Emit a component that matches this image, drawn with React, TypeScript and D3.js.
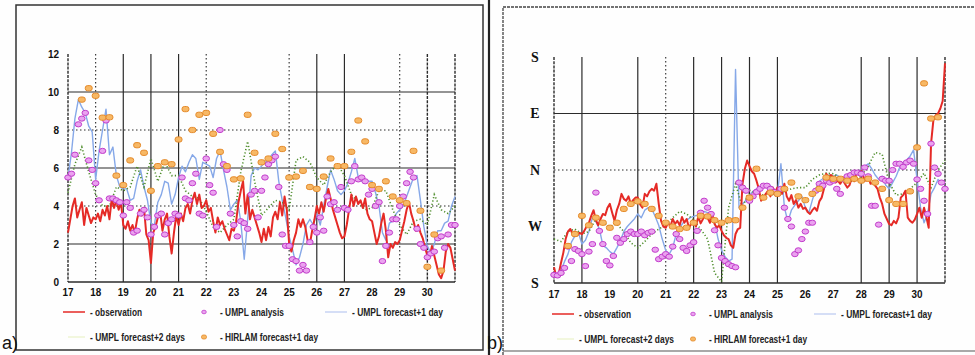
import React from 'react';
import * as d3 from 'd3';

// ---------- shared ----------
const dayLabels = ['17', '18', '19', '20', '21', '22', '23', '24', '25', '26', '27', '28', '29', '30'];
const legendLabels = ['- observation', '- UMPL analysis', '- UMPL forecast+1 day', '- UMPL forecast+2 days', '- HIRLAM forecast+1 day'];

// ---------- panel a: wind speed (m/s) ----------
const speedTicks = [0, 2, 4, 6, 8, 10, 12];
// observation, 2-hourly from day 17.0
const obsSpeed = [
  2.6, 3.3, 4.0, 4.4, 3.4, 3.8, 4.2, 3.0, 3.9, 3.5, 3.1, 3.4,
  3.3, 3.6, 3.2, 3.8, 3.5, 4.0, 3.3, 4.4, 3.9, 4.3, 3.8, 4.2,
  3.0, 2.8, 3.2, 2.7, 3.0, 2.6, 3.3, 3.8, 3.5, 3.9, 2.5, 2.2,
  1.0, 2.6, 2.9, 3.4, 3.7, 2.7, 3.3, 3.6, 2.4, 1.5, 2.6, 3.5,
  3.0, 3.6, 3.2, 3.9, 4.1, 3.6, 4.3, 4.7, 4.1, 4.6, 3.9, 4.0,
  4.3, 3.7, 3.9, 3.2, 2.6, 3.4, 3.0, 3.2, 2.8, 2.5, 2.2, 2.8,
  2.7, 3.2, 4.2, 4.8, 5.3, 3.6, 4.6, 3.3, 3.8, 3.4, 3.0, 2.6,
  2.1, 2.8, 2.2, 2.9, 2.4, 3.4, 3.7, 3.3, 4.2, 3.5, 4.5, 3.8,
  2.0, 1.6, 2.2, 2.6, 3.3, 2.9, 3.3, 2.9, 2.2, 2.0, 2.7, 3.3,
  4.0, 3.6, 4.2, 3.7, 4.4, 4.9, 4.4, 3.8, 3.4, 3.0, 2.6, 2.3,
  2.4, 3.0, 3.8, 4.6, 4.0, 4.5, 4.1, 4.3, 3.9, 4.4, 3.6, 3.3,
  3.2, 2.6, 2.0, 2.4, 3.1, 3.6, 2.7, 1.3, 2.0, 1.8, 2.1, 2.0,
  2.2, 2.7, 3.2, 3.8, 4.2, 3.6, 3.2, 2.7, 3.0, 2.6, 2.3, 1.8,
  1.4, 1.3, 1.9, 1.4, 0.9, 0.4, 0.2, 0.6, 1.6, 2.0, 1.8, 1.2,
  0.6,
];
// UMPL analysis, 3-hourly from day 17.0
const analysisSpeed = [
  5.5, 5.7, 6.7, 8.3, 8.6, 8.9, 6.4, 5.9,
  5.2, 4.3, 6.9, 8.5, 4.4, 4.4, 4.3, 4.2,
  3.5, 4.2, 3.9, 2.6, 2.7, 3.6, 3.8, 3.4,
  2.5, 2.9, 3.5, 3.6, 2.5, 3.1, 3.3, 3.6,
  3.5, 5.5, 4.4, 4.3, 5.2, 5.7, 3.6, 3.5,
  6.5, 5.1, 4.7, 2.9, 8.0, 6.2, 5.9, 3.6,
  3.0, 2.4, 3.2, 3.1, 2.8, 4.6, 4.8, 3.4,
  4.8, 5.5, 6.2, 6.4, 6.6, 5.0, 2.5, 1.9,
  1.9, 1.2, 1.1, 0.6, 0.9, 0.6, 2.1, 2.9,
  2.6, 3.4, 2.7, 4.5, 4.1, 4.2, 3.8, 5.0,
  3.9, 3.8, 5.3, 6.1, 5.4, 5.5, 5.3, 4.6,
  4.9, 4.0, 4.2, 1.1, 1.9, 2.6, 3.3, 3.3,
  4.0, 4.5, 5.2, 5.8, 5.5, 2.8, 2.0, 1.8,
  1.3, 1.5, 1.6, 2.3, 2.4, 1.8, 2.5, 3.0,
  3.0,
];
// UMPL forecast +1 day, 3-hourly from day 17.0
const fc1Speed = [
  5.5, 6.8, 8.6, 9.6, 9.2, 8.9, 8.2, 7.9,
  5.4, 6.9, 8.0, 9.1, 6.7, 7.1, 5.6, 5.0,
  4.9, 4.9, 4.3, 4.4, 5.3, 5.9, 5.0, 4.3,
  3.1, 3.0, 4.2, 4.6, 5.3, 5.2, 4.1, 4.6,
  5.5, 6.1, 5.8, 6.3, 6.7, 6.5, 5.4, 6.3,
  6.2, 6.1, 5.5, 6.5, 6.9, 5.9, 5.0, 3.8,
  4.1, 4.3, 3.2, 1.2, 3.3, 5.6, 6.0, 5.9,
  6.1, 6.3, 6.4, 6.7, 6.9, 5.3, 4.3, 3.4,
  2.4, 1.7, 0.9, 1.3, 2.0, 3.0, 3.3, 3.0,
  3.6, 3.0, 4.0, 5.0, 5.9, 5.4, 4.8, 4.6,
  4.8, 5.2, 5.8, 6.5, 5.5, 5.3, 5.4, 5.3,
  5.3, 4.7, 4.0, 2.6, 2.2, 3.1, 3.2, 3.6,
  3.8, 4.0, 4.5, 5.0, 5.5, 5.6, 4.3, 2.9,
  1.9, 1.5, 2.0, 2.7, 2.7, 3.1, 3.2, 4.0,
  4.5,
];
// UMPL forecast +2 days, 6-hourly from day 17.0
const fc2Speed = [
  4.7, 6.2, 7.1, 5.8, 4.6, 4.0, 4.0, 5.0, 4.8, 5.0, 6.1, 5.0,
  6.5, 5.3, 6.3, 5.6, 5.6, 4.8, 4.5, 4.4, 3.7, 2.9, 2.6, 3.0,
  3.3, 5.8, 7.4, 5.3, 3.5, 3.9, 4.3, 4.2, 3.8, 6.4, 6.6, 6.3,
  5.5, 5.1, 5.8, 6.2, 5.6, 4.6, 4.2, 3.8, 3.9, 4.8, 4.8, 3.8,
  3.0, 2.5, 3.2, 3.3, 3.0, 4.6, 3.8, 3.6, 4.0,
];
// HIRLAM forecast +1 day, 6-hourly from day 17.5
const hirlamSpeed = [
  9.6, 10.2, 9.8, 8.65, 8.67, 5.6, 5.1, 6.4, 7.2, 6.8, 4.8, 6.1, 6.3, 6.2,
  7.5, 9.1, 8.0, 8.8, 8.9, 7.8, 6.85, 6.1, 5.4, 5.45, 8.8, 6.8, 6.3, 6.5,
  7.8, 7.0, 5.5, 5.55, 5.85, 5.0, 4.9, 5.55, 6.5, 6.1, 6.1, 6.85, 8.5, 7.4,
  5.1, 4.9, 5.3, 4.5, 4.3, 4.15, 6.9, 3.75, 0.8, 2.5, 0.6,
];

// ---------- panel b: wind direction (deg; 180=S, 270=W, 360=N, 450=E, 540=S) ----------
const dirTickValues = [180, 270, 360, 450, 540];
const dirTickLabels = ['S', 'W', 'N', 'E', 'S'];
// observation, 2-hourly from day 17.0
const obsDir = [
  205, 190, 194, 212, 228, 250, 262, 266, 258, 262, 256, 260,
  258, 263, 270, 276, 287, 296, 280, 272, 282, 290, 288, 300,
  306, 292, 279, 296, 306, 322, 314, 311, 318, 306, 312, 316,
  316, 305, 300, 322, 318, 326, 330, 327, 338, 306, 279, 270,
  268, 276, 270, 282, 274, 279, 272, 285, 276, 282, 268, 275,
  279, 270, 286, 275, 282, 288, 284, 276, 290, 274, 268, 272,
  263, 256, 252, 250, 240, 236, 258, 266, 268, 338, 362, 375,
  366, 358, 354, 343, 330, 311, 316, 322, 327, 318, 332, 325,
  332, 326, 322, 338, 318, 311, 320, 306, 312, 300, 306, 298,
  300, 293, 290, 296, 300, 295, 310, 316, 330, 354, 348, 352,
  348, 340, 343, 338, 345, 338, 332, 336, 348, 342, 356, 352,
  359, 348, 343, 350, 338, 340, 335, 330, 316, 306, 290, 282,
  274, 272, 279, 275, 284, 316, 320, 327, 284, 279, 276, 281,
  290, 300, 284, 300, 285, 268, 402, 439, 447, 450, 458, 470,
  530,
];
// UMPL analysis, 3-hourly from day 17.0
const analysisDir = [
  193, 192, 196, 204, 238, 215, 234, 231,
  226, 207, 230, 242, 324, 263, 242, 215,
  208, 223, 252, 244, 250, 258, 262, 258,
  258, 262, 256, 260, 262, 233, 218, 222,
  226, 222, 238, 258, 250, 236, 231, 240,
  245, 263, 292, 311, 300, 290, 264, 240,
  220, 215, 210, 207, 205, 340, 332, 327,
  311, 318, 325, 330, 335, 335, 330, 325,
  322, 330, 300, 282, 270, 226, 232, 250,
  262, 276, 276, 327, 338, 335, 343, 340,
  343, 330, 322, 345, 350, 352, 356, 356,
  354, 364, 350, 303, 303, 273, 346, 343,
  343, 360, 370, 370, 365, 372, 375, 370,
  345, 330, 311, 290, 402, 364, 354, 340,
  330,
];
// UMPL forecast +1 day, 3-hourly from day 17.0
const fc1Dir = [
  190, 193, 200, 214, 226, 245, 255, 260,
  242, 248, 262, 284, 278, 266, 240, 236,
  230, 226, 236, 247, 262, 270, 276, 282,
  290, 284, 296, 300, 298, 286, 272, 250,
  232, 226, 236, 258, 268, 276, 280, 284,
  286, 288, 291, 294, 292, 288, 278, 250,
  232, 222, 215, 218, 520, 300, 306, 312,
  320, 326, 330, 332, 336, 338, 335, 328,
  322, 370, 300, 278, 296, 304, 311, 318,
  300, 292, 312, 330, 342, 346, 350, 352,
  350, 352, 348, 345, 350, 352, 356, 358,
  360, 366, 370, 362, 352, 345, 350, 336,
  330, 340, 350, 364, 372, 376, 382, 392,
  345, 300, 276, 290, 322, 332, 345, 340,
  338,
];
// UMPL forecast +2 days, 6-hourly from day 17.0
const fc2Dir = [
  250, 246, 262, 266, 258, 262, 282, 276, 270, 274, 262, 244,
  236, 246, 258, 266, 272, 284, 294, 290, 280, 266, 250, 196,
  182, 300, 338, 300, 328, 322, 320, 322, 318, 326, 330, 332,
  332, 345, 352, 355, 354, 348, 342, 342, 350, 366, 388, 385,
  340, 320, 322, 330, 340, 355, 332, 360, 375,
];
// HIRLAM forecast +1 day, 6-hourly from day 17.5
const hirlamDir = [
  239, 258, 287, 272, 284, 276, 268, 276, 298, 306, 310, 306, 298, 287,
  276, 270, 266, 268, 276, 287, 286, 280, 276, 280, 280, 300, 316, 362,
  316, 324, 322, 330, 340, 318, 312, 322, 330, 348, 346, 346, 343, 346,
  343, 346, 340, 330, 312, 306, 306, 326, 396, 498, 442, 444,
];

// ---------- helpers ----------
type Pt = { t: number; v: number };
const regular = (start: number, perDay: number, vals: number[]): Pt[] =>
  vals.map((v, i) => ({ t: start + i / perDay, v }));

const COL = {
  obs: '#e52a26',
  fc1: '#86a8e8',
  fc2: '#4d8c2a',
  anaFill: '#eaa2ef',
  anaStroke: '#c23ccb',
  hirFill: '#f7b865',
  hirStroke: '#e58a2a',
  grid: '#2b2b2b',
};
const FONT = '"Liberation Sans", Arial, sans-serif';

interface PanelProps {
  x: d3.ScaleLinear<number, number>;
  y: d3.ScaleLinear<number, number>;
  obs: Pt[];
  ana: Pt[];
  fc1: Pt[];
  fc2: Pt[];
  hir: Pt[];
  hSolid: number[];
  hDotted: number[];
  vSolid: number[];
  vDotted: number[];
  vDashed: number[];
  yTickVals: number[];
  yTickText: string[];
  yLabelX: number;
  yLabelAnchor: 'end' | 'middle';
  yLabelFont: string;
  yLabelSize: number;
  xLabelY: number;
  legendX: number;
  legendY: number;
}

function Panel(p: PanelProps) {
  const { x, y } = p;
  const [yMin, yMax] = y.domain();
  const line = d3.line<Pt>().x((d) => x(d.t)).y((d) => y(d.v));
  const x0 = x(17);
  const x1 = x(31);
  const lx = p.legendX;
  const ly = p.legendY;
  return (
    <g>
      {/* horizontal grid */}
      {p.hSolid.map((v) => (
        <line key={'hs' + v} x1={x0} x2={x1} y1={y(v)} y2={y(v)} stroke={COL.grid} strokeWidth={1.1} />
      ))}
      {p.hDotted.map((v) => (
        <line key={'hd' + v} x1={x0} x2={x1} y1={y(v)} y2={y(v)} stroke={COL.grid} strokeWidth={1.1} strokeDasharray="1.5 2.5" />
      ))}
      <line x1={x0} x2={x1} y1={y(yMin)} y2={y(yMin)} stroke={COL.grid} strokeWidth={1.3} />
      {/* vertical grid */}
      {p.vSolid.map((d) => (
        <line key={'vs' + d} x1={x(d)} x2={x(d)} y1={y(yMax)} y2={y(yMin)} stroke={COL.grid} strokeWidth={1.2} />
      ))}
      {p.vDotted.map((d) => (
        <line key={'vd' + d} x1={x(d)} x2={x(d)} y1={y(yMax)} y2={y(yMin)} stroke={COL.grid} strokeWidth={1.1} strokeDasharray="1.5 2.5" />
      ))}
      {p.vDashed.map((d) => (
        <line key={'vx' + d} x1={x(d)} x2={x(d)} y1={y(yMax)} y2={y(yMin)} stroke={COL.grid} strokeWidth={1.4} strokeDasharray="3 1.2" />
      ))}
      {/* y labels */}
      {p.yTickVals.map((v, i) => (
        <text key={'yl' + i} x={p.yLabelX} y={y(v)} dy="0.35em" textAnchor={p.yLabelAnchor}
          fontFamily={p.yLabelFont} fontSize={p.yLabelSize} fontWeight="bold" fill="#111">
          {p.yTickText[i]}
        </text>
      ))}
      {/* x labels */}
      {dayLabels.map((lab, i) => (
        <text key={'xl' + lab} x={x(17 + i)} y={p.xLabelY} textAnchor="middle" fontFamily={FONT}
          fontSize={10} fontWeight="bold" fill="#111" textLength={11} lengthAdjust="spacingAndGlyphs">
          {lab}
        </text>
      ))}
      {/* series */}
      <path d={line(p.fc1) || ''} fill="none" stroke={COL.fc1} strokeWidth={1.4} strokeLinejoin="round" />
      <path d={line(p.fc2) || ''} fill="none" stroke={COL.fc2} strokeWidth={1.6} strokeDasharray="1.2 2.2" />
      <path d={line(p.obs) || ''} fill="none" stroke={COL.obs} strokeWidth={2} strokeLinejoin="round" />
      {p.ana.map((d, i) => (
        <ellipse key={'a' + i} cx={x(d.t)} cy={y(d.v)} rx={3.3} ry={2.6} fill={COL.anaFill} stroke={COL.anaStroke} strokeWidth={1} />
      ))}
      {p.hir.map((d, i) => (
        <rect key={'h' + i} x={x(d.t) - 3.5} y={y(d.v) - 2.6} width={7} height={5.2} rx={2.4}
          fill={COL.hirFill} stroke={COL.hirStroke} strokeWidth={1} />
      ))}
      {/* legend */}
      <g fontFamily={FONT} fontSize={10} fontWeight="bold" fill="#222">
        <line x1={lx} x2={lx + 22} y1={ly} y2={ly} stroke={COL.obs} strokeWidth={1.5} />
        <text x={lx + 27} y={ly} dy="0.35em" textLength={52} lengthAdjust="spacingAndGlyphs">{legendLabels[0]}</text>
        <ellipse cx={lx + 141} cy={ly} rx={2.3} ry={1.8} fill={COL.anaFill} stroke={COL.anaStroke} strokeWidth={0.8} />
        <text x={lx + 157} y={ly} dy="0.35em" textLength={64} lengthAdjust="spacingAndGlyphs">{legendLabels[1]}</text>
        <line x1={lx + 262} x2={lx + 284} y1={ly} y2={ly} stroke="#b9c9f0" strokeWidth={1.2} />
        <text x={lx + 289} y={ly} dy="0.35em" textLength={91} lengthAdjust="spacingAndGlyphs">{legendLabels[2]}</text>
        <line x1={lx + 5} x2={lx + 22} y1={ly + 25} y2={ly + 25} stroke="#e9f2c8" strokeWidth={1.2} />
        <text x={lx + 27} y={ly + 25} dy="0.35em" textLength={95} lengthAdjust="spacingAndGlyphs">{legendLabels[3]}</text>
        <rect x={lx + 138.5} y={ly + 23} width={5} height={4} rx={1.8} fill={COL.hirFill} stroke={COL.hirStroke} strokeWidth={0.8} />
        <text x={lx + 157} y={ly + 25} dy="0.35em" textLength={98} lengthAdjust="spacingAndGlyphs">{legendLabels[4]}</text>
      </g>
    </g>
  );
}

export default function App() {
  const xA = d3.scaleLinear().domain([17, 31]).range([68, 455]);
  const yA = d3.scaleLinear().domain([0, 12]).range([282, 54]);
  const xB = d3.scaleLinear().domain([17, 31]).range([554, 945]);
  const yB = d3.scaleLinear().domain([180, 540]).range([283, 57]);

  return (
    <svg width={975} height={355} viewBox="0 0 975 355"
      style={{ position: 'absolute', left: 0, top: 0, background: '#fefefe' }}>
      <rect x={0} y={0} width={975} height={355} fill="#fefefe" />
      {/* frames */}
      <rect x={16} y={5} width={467} height={345} fill="none" stroke="#333" strokeWidth={1.5} />
      <line x1={489} x2={489} y1={0} y2={355} stroke="#222" strokeWidth={2.2} />
      <path d="M503,355 V7 H975" fill="none" stroke="#444" strokeWidth={1.3} strokeDasharray="3 1" />
      <line x1={503} x2={975} y1={351} y2={351} stroke="#555" strokeWidth={1.2} />

      <Panel
        x={xA} y={yA}
        obs={regular(17, 12, obsSpeed)}
        ana={regular(17, 8, analysisSpeed)}
        fc1={regular(17, 8, fc1Speed)}
        fc2={regular(17, 4, fc2Speed)}
        hir={regular(17.5, 4, hirlamSpeed)}
        hSolid={[2, 6, 10]} hDotted={[4, 8]}
        vSolid={[19, 20, 21, 26, 27]} vDotted={[18, 22, 25, 29]} vDashed={[17, 30, 31]}
        yTickVals={speedTicks} yTickText={speedTicks.map(String)}
        yLabelX={59} yLabelAnchor="end" yLabelFont={FONT} yLabelSize={10}
        xLabelY={296}
        legendX={63} legendY={312}
      />
      <Panel
        x={xB} y={yB}
        obs={regular(17, 12, obsDir)}
        ana={regular(17, 8, analysisDir)}
        fc1={regular(17, 8, fc1Dir)}
        fc2={regular(17, 4, fc2Dir)}
        hir={regular(17.5, 4, hirlamDir)}
        hSolid={[450]} hDotted={[360]}
        vSolid={[18, 20, 22, 23, 24, 25, 28, 29, 30]} vDotted={[21]} vDashed={[17, 31]}
        yTickVals={dirTickValues} yTickText={dirTickLabels}
        yLabelX={535} yLabelAnchor="middle" yLabelFont={'"Liberation Serif", "Times New Roman", serif'} yLabelSize={14}
        xLabelY={298}
        legendX={552} legendY={314}
      />
      <text x={2} y={349} fontFamily={FONT} fontSize={18} fill="#111">a)</text>
      <text x={487} y={349} fontFamily={FONT} fontSize={18} fill="#111">b)</text>
    </svg>
  );
}
